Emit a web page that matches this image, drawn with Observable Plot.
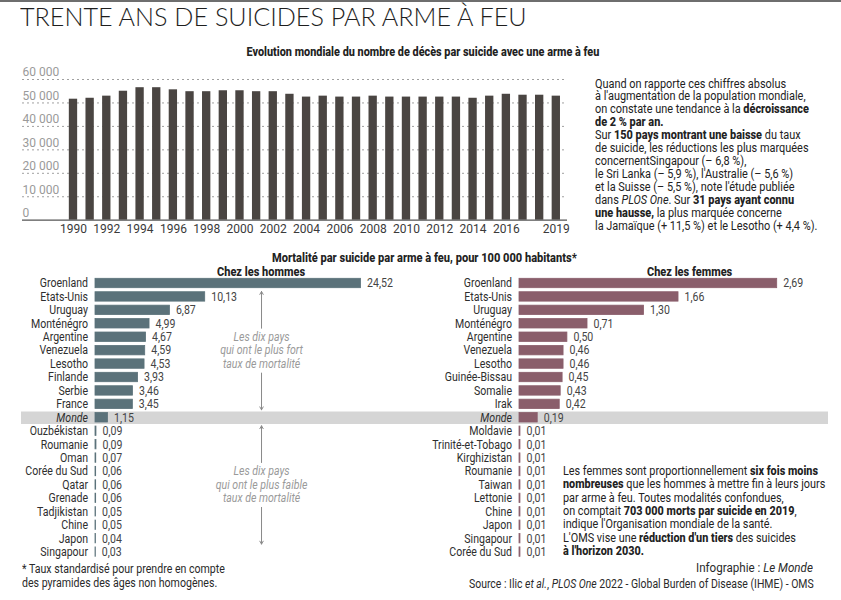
<!DOCTYPE html>
<html><head><meta charset="utf-8">
<script src="https://cdn.jsdelivr.net/npm/d3@7"></script>
<script src="https://cdn.jsdelivr.net/npm/@observablehq/plot@0.6"></script>
<style>
body{margin:0;background:#fff;}
#root{position:relative;width:841px;height:600px;overflow:hidden;background:#fff;font-family:Roboto,"Noto Sans",sans-serif;color:#222;}
#root svg{position:absolute;overflow:visible;}
.t{position:absolute;white-space:nowrap;}
.t b{font-weight:800;}
</style></head><body><div id="root"></div>
<script>
// ---------- DATA ----------
const years = [1990,1991,1992,1993,1994,1995,1996,1997,1998,1999,2000,2001,2002,2003,2004,2005,2006,2007,2008,2009,2010,2011,2012,2013,2014,2015,2016,2017,2018,2019];
const deaths = [51600,52000,52900,55000,56500,56500,55600,54800,54800,55200,55200,54800,54800,53700,52500,52900,52500,52500,52900,52500,52500,52500,52500,52500,52000,52900,53700,53300,53300,52900];
const yearTicks = [1990,1992,1994,1996,1998,2000,2002,2004,2006,2008,2010,2012,2014,2016,2019];
const yTicks = [0,10000,20000,30000,40000,50000,60000];

const menCountries = ["Groenland","Etats-Unis","Uruguay","Monténégro","Argentine","Venezuela","Lesotho","Finlande","Serbie","France","Monde","Ouzbékistan","Roumanie","Oman","Corée du Sud","Qatar","Grenade","Tadjikistan","Chine","Japon","Singapour"];
const menValues = [24.52,10.13,6.87,4.99,4.67,4.59,4.53,3.93,3.46,3.45,1.15,0.09,0.09,0.07,0.06,0.06,0.06,0.05,0.05,0.04,0.03];

const womenCountries = ["Groenland","Etats-Unis","Uruguay","Monténégro","Argentine","Venezuela","Lesotho","Guinée-Bissau","Somalie","Irak","Monde","Moldavie","Trinité-et-Tobago","Kirghizistan","Roumanie","Taiwan","Lettonie","Chine","Japon","Singapour","Corée du Sud"];
const womenValues = [2.69,1.66,1.30,0.71,0.50,0.46,0.46,0.45,0.43,0.42,0.19,0.01,0.01,0.01,0.01,0.01,0.01,0.01,0.01,0.01,0.01];

// ---------- HELPERS ----------
const root = document.getElementById("root");
const fr = d3.formatLocale({decimal:",", thousands:"\u00a0", grouping:[3], currency:["","\u00a0€"]});
const fmtInt = fr.format(",");
const fmt2 = fr.format(".2f");

function place(html, o){
  const el = document.createElement("div");
  el.className = "t";
  el.innerHTML = html;
  el.style.fontSize = o.size + "px";
  el.style.lineHeight = o.lh + "px";
  if (o.weight) el.style.fontWeight = o.weight;
  if (o.color) el.style.color = o.color;
  if (o.font) el.style.fontFamily = o.font;
  root.appendChild(el);
  const w = el.offsetWidth;
  const k = o.width ? o.width / w : 1;
  let left;
  if (o.cx != null){ left = o.cx - w/2; el.style.transformOrigin = "50% 0"; }
  else if (o.right != null){ left = o.right - w; el.style.transformOrigin = "100% 0"; }
  else { left = o.left; el.style.transformOrigin = "0 0"; }
  el.style.left = left + "px";
  el.style.top = (o.cy - o.lh/2) + "px";
  el.style.transform = `scaleX(${k})`;
  return el;
}
function addSvg(svg, left, top){
  svg.style.left = left + "px";
  svg.style.top = top + "px";
  root.appendChild(svg);
  return svg;
}
function condense(svg, k){
  svg.querySelectorAll("text").forEach(t => {
    const L = t.getComputedTextLength();
    if (L > 0){ t.setAttribute("textLength", L*k); t.setAttribute("lengthAdjust","spacingAndGlyphs"); }
  });
}

// top border
const bar = document.createElement("div");
Object.assign(bar.style,{position:"absolute",left:"0",top:"0",width:"841px",height:"2px",background:"#6e6e6e"});
root.appendChild(bar);

// ---------- TITLES ----------
place("TRENTE ANS DE SUICIDES PAR ARME À FEU", {left:20, cy:16, size:26, lh:30, weight:300, font:"Lato, Roboto, sans-serif", color:"#1e1e1e", width:507});
place("Evolution mondiale du nombre de décès par suicide avec une arme à feu", {cx:423.3, cy:51.7, size:12, lh:14, weight:800, width:353});

// ---------- TOP BAR CHART ----------
const topChart = Plot.plot({
  width: 590, height: 182,
  marginTop: 19, marginBottom: 22.3, marginLeft: 22, marginRight: 23,
  style: {fontFamily: "Roboto, sans-serif", fontSize: "12px", background: "transparent", overflow: "visible"},
  x: {type: "band", domain: years, range: [60.5, 568.3], padding: 0.5, round: false},
  y: {domain: [0, 60000], axis: null},
  marks: [
    Plot.ruleY(yTicks.filter(d => d > 0), {stroke: "#a0a0a0", strokeDasharray: "2,3"}),
    Plot.barY(deaths, {x: years, y: deaths, fill: "#4a4542"}),
    Plot.ruleY([0], {stroke: "#555", strokeWidth: 1.2}),
    Plot.text(yTicks, {y: d => d, text: d => fmtInt(d), frameAnchor: "left", textAnchor: "start", dy: -7, fill: "#9a9a9a", fontSize: 12}),
    Plot.axisX({ticks: yearTicks, tickSize: 0, tickPadding: 4, tickFormat: d => String(d), color: "#3a3a3a", fontSize: 12})
  ]
});
addSvg(topChart, 0, 60);

// right text block
const topText = [
  "Quand on rapporte ces chiffres absolus",
  "à l'augmentation de la population mondiale,",
  "on constate une tendance à la <b>décroissance</b>",
  "<b>de 2 % par an.</b>",
  "Sur <b>150 pays montrant une baisse</b> du taux",
  "de suicide, les réductions les plus marquées",
  "concernentSingapour (– 6,8 %),",
  "le Sri Lanka (– 5,9 %), l'Australie (– 5,6 %)",
  "et la Suisse (– 5,5 %), note l'étude publiée",
  "dans <i>PLOS One</i>. Sur <b>31 pays ayant connu</b>",
  "<b>une hausse,</b> la plus marquée concerne",
  "la Jamaïque (+ 11,5 %) et le Lesotho (+ 4,4 %)."
];
place(topText.join("<br>"), {left:595, cy:84, size:12, lh:12.97, width:222});

// ---------- LOWER SECTION ----------
place("Mortalité par suicide par arme à feu, pour 100 000 habitants*", {cx:424, cy:258, size:12, lh:14, weight:800, width:305});
place("Chez les hommes", {cx:261, cy:271.7, size:12, lh:14, weight:800, width:88});
place("Chez les femmes", {cx:689, cy:271.7, size:12, lh:14, weight:800, width:85});

const men = menCountries.map((c, i) => ({c, v: menValues[i]}));
const women = womenCountries.map((c, i) => ({c, v: womenValues[i]}));

const notes = [
  {x: 15.33, y: "Argentine", t: "Les dix pays"},
  {x: 15.33, y: "Venezuela", t: "qui ont le plus fort"},
  {x: 15.33, y: "Lesotho", t: "taux de mortalité"},
  {x: 15.33, y: "Corée du Sud", t: "Les dix pays"},
  {x: 15.33, y: "Qatar", t: "qui ont le plus faible"},
  {x: 15.33, y: "Grenade", t: "taux de mortalité"}
];
const arrows = [
  {x: 15.33, y1: "Argentine", y2: "Groenland"},
  {x: 15.33, y1: "Lesotho", y2: "Monde"},
  {x: 15.33, y1: "Corée du Sud", y2: "Monde"},
  {x: 15.33, y1: "Grenade", y2: "Singapour"}
];

function rowChart(data, countries, o){
  return Plot.plot({
    width: o.width, height: 300,
    marginTop: 12.27, marginBottom: 1.67, marginLeft: o.ml, marginRight: o.mr,
    style: {fontFamily: "Roboto, sans-serif", fontSize: "12px", background: "transparent", overflow: "visible"},
    x: {domain: o.domain, range: o.range, axis: null},
    y: {domain: countries, padding: 0.3, axis: null, round: false},
    marks: [
      Plot.ruleY(["Monde"], {y: d => d, stroke: "#d5d5d5", strokeWidth: 12.5}),
      Plot.barX(data, {x: "v", y: "c", fill: o.color, stroke: o.color, strokeWidth: 0.8}),
      Plot.text(data, {filter: d => d.c !== "Monde", x: () => 0, y: "c", text: "c", textAnchor: "end", dx: -7.5, fill: "#2e2e2e", fontSize: 12}),
      Plot.text(data, {filter: d => d.c === "Monde", x: () => 0, y: "c", text: "c", textAnchor: "end", dx: -7.5, fill: "#2e2e2e", fontSize: 12, fontStyle: "italic"}),
      Plot.text(data, {x: "v", y: "c", text: d => fmt2(d.v), textAnchor: "start", dx: 6, fill: "#444", fontSize: 12}),
      ...(o.notes ? [
        Plot.arrow(arrows, {x1: "x", x2: "x", y1: "y1", y2: "y2", stroke: "#8a8a8a", strokeWidth: 1, headLength: 5, insetStart: 9, insetEnd: 8}),
        Plot.text(notes, {x: "x", y: "y", text: "t", fill: "#9a9a9a", fontStyle: "italic", fontSize: 12})
      ] : [])
    ]
  });
}

const menChart = rowChart(men, menCountries, {width: 420, ml: 21, mr: 0, domain: [0, 25], range: [95, 365.75], color: "#5b727a", notes: true});
addSvg(menChart, 0, 262);
condense(menChart, 0.88);

const womenChart = rowChart(women, womenCountries, {width: 421, ml: 0, mr: 13, domain: [0, 3], range: [99, 386.4], color: "#8a5e6b", notes: false});
addSvg(womenChart, 420, 262);
condense(womenChart, 0.88);

// women paragraph
const womenText = [
  "Les femmes sont proportionnellement <b>six fois moins</b>",
  "<b>nombreuses</b> que les hommes à mettre fin à leurs jours",
  "par arme à feu. Toutes modalités confondues,",
  "on comptait <b>703 000 morts par suicide en 2019</b>,",
  "indique l'Organisation mondiale de la santé.",
  "L'OMS vise une <b>réduction d'un tiers</b> des suicides",
  "<b>à l'horizon 2030.</b>"
];
place(womenText.join("<br>"), {left:563, cy:471.7, size:12, lh:13.33, width:262});

// footnote & credits
place("* Taux standardisé pour prendre en compte<br>des pyramides des âges non homogènes.", {left:22, cy:569, size:12, lh:14.3, width:203, color:"#2a2a2a"});
place("Infographie : <i>Le Monde</i>", {right:813, cy:568.3, size:12, lh:14, color:"#2a2a2a", width:117});
place("Source : Ilic <i>et al.</i>, <i>PLOS One</i> 2022 - Global Burden of Disease (IHME) - OMS", {right:814, cy:584, size:12, lh:14, color:"#2a2a2a", width:345});
</script></body></html>
